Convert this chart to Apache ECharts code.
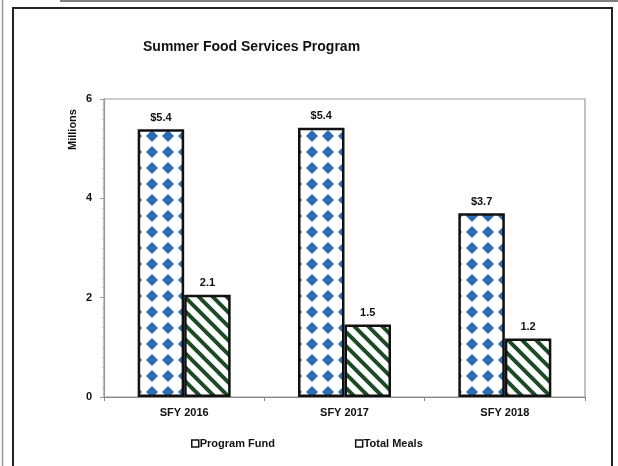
<!DOCTYPE html>
<html><head><meta charset="utf-8">
<script src="https://cdn.jsdelivr.net/npm/echarts@6/dist/echarts.min.js"></script>
<style>html,body{margin:0;padding:0;background:#fff}#c{width:618px;height:466px}</style>
</head><body><div id="c"></div>
<script>
const categories = ['SFY 2016', 'SFY 2017', 'SFY 2018'];
const programFund = [5.39, 5.42, 3.70];
const totalMeals = [2.06, 1.46, 1.18];
const yTicks = [0, 2, 4, 6];

function diamondPattern() {
  const c = document.createElement('canvas');
  c.width = 16; c.height = 16;
  const g = c.getContext('2d');
  g.fillStyle = '#ffffff'; g.fillRect(0, 0, 16, 16);
  g.fillStyle = '#2b6cb3';
  g.beginPath();
  g.moveTo(8, 2); g.lineTo(14, 8); g.lineTo(8, 14); g.lineTo(2, 8); g.closePath();
  g.fill();
  return c;
}
function stripePattern() {
  const s = 14;
  const c = document.createElement('canvas');
  c.width = s; c.height = s;
  const g = c.getContext('2d');
  g.fillStyle = '#ffffff'; g.fillRect(0, 0, s, s);
  g.strokeStyle = '#1d4a27'; g.lineWidth = 4;
  g.beginPath();
  g.moveTo(-s, -s); g.lineTo(2 * s, 2 * s);
  g.moveTo(-s, 0); g.lineTo(s, 2 * s);
  g.moveTo(0, -s); g.lineTo(2 * s, s);
  g.stroke();
  return c;
}

const chart = echarts.init(document.getElementById('c'), null, {renderer: 'canvas'});
const boldTxt = {fontFamily: 'Liberation Sans', fontWeight: 'bold', color: '#111'};
chart.setOption({
  animation: false,
  backgroundColor: '#ffffff',
  title: {
    text: 'Summer Food Services Program',
    left: 138, top: 35,
    textStyle: {fontFamily: 'Liberation Sans', fontWeight: 'bold', fontSize: 14, color: '#111'}
  },
  graphic: [
    {type: 'rect', shape: {x: 13, y: 8, width: 599, height: 470}, style: {fill: 'none', stroke: '#222', lineWidth: 2}, z: -1},
    {type: 'line', shape: {x1: 2.5, y1: 0, x2: 2.5, y2: 466}, style: {stroke: '#999', lineWidth: 1.5}},
    {type: 'line', shape: {x1: 60, y1: 1, x2: 618, y2: 1}, style: {stroke: '#555', lineWidth: 1.5}}
  ],
  legend: {
    data: ['Program Fund', 'Total Meals'],
    left: 186, top: 433,
    itemGap: 80,
    itemWidth: 7, itemHeight: 7,
    icon: 'rect',
    itemStyle: {color: '#fff', borderColor: '#111', borderWidth: 1.5, decal: 'none'},
    textStyle: {fontFamily: 'Liberation Sans', fontWeight: 'bold', fontSize: 11, color: '#111', padding: [0, 0, 0, -4]}
  },
  grid: {left: 104, top: 99, right: 33, bottom: 69, show: true, borderColor: '#999', borderWidth: 1.2},
  xAxis: {
    type: 'category', data: categories,
    axisLine: {lineStyle: {color: '#888', width: 1.2}},
    axisTick: {show: true, length: 4, lineStyle: {color: '#888'}},
    axisLabel: Object.assign({fontSize: 11, margin: 10}, boldTxt)
  },
  yAxis: {
    type: 'value', min: yTicks[0], max: yTicks[yTicks.length - 1], interval: 2,
    name: 'Millions', nameLocation: 'end', nameRotate: 90,
    nameTextStyle: Object.assign({fontSize: 11, verticalAlign: 'bottom', padding: [0, 0, 26, 0]}, boldTxt),
    nameGap: -51,
    axisLine: {show: true, lineStyle: {color: '#999', width: 1.2}},
    axisTick: {show: true, length: 4, lineStyle: {color: '#999'}},
    minorTick: {show: true, splitNumber: 10, length: 2, lineStyle: {color: '#bbb'}},
    splitLine: {show: false},
    axisLabel: Object.assign({fontSize: 11, margin: 12}, boldTxt)
  },
  series: [
    {
      name: 'Program Fund', type: 'bar', data: programFund,
      barGap: '0%', barCategoryGap: '42%',
      itemStyle: {color: {image: diamondPattern(), repeat: 'repeat'}, borderColor: '#111', borderWidth: 2.5},
      label: Object.assign({show: true, position: 'top', fontSize: 11, distance: 6,
        formatter: p => '$' + p.value.toFixed(1)}, boldTxt)
    },
    {
      name: 'Total Meals', type: 'bar', data: totalMeals,
      itemStyle: {color: {image: stripePattern(), repeat: 'repeat'}, borderColor: '#111', borderWidth: 2.5},
      label: Object.assign({show: true, position: 'top', fontSize: 11, distance: 6,
        formatter: p => p.value.toFixed(1)}, boldTxt)
    }
  ]
});
</script></body></html>
